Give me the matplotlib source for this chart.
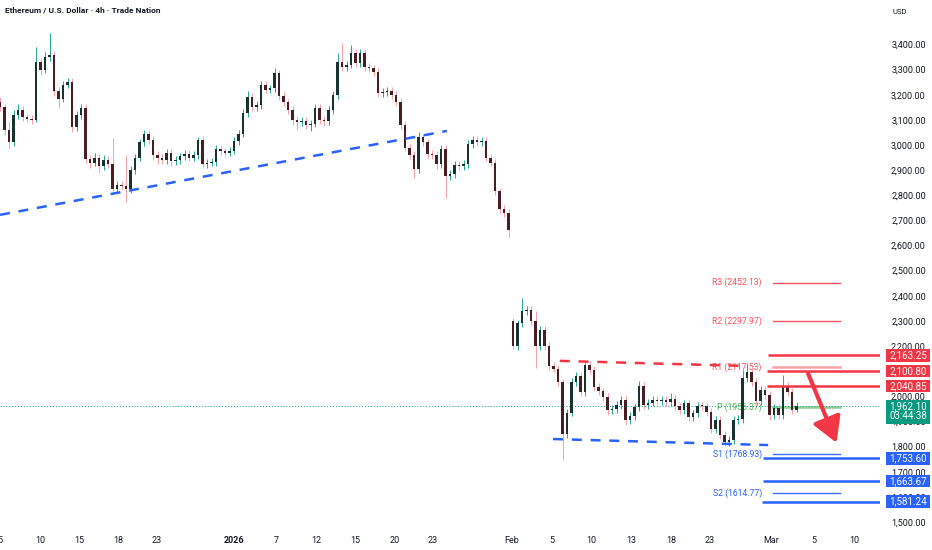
import numpy as np
import matplotlib
matplotlib.use("Agg")
import matplotlib.pyplot as plt
import matplotlib.transforms as mtransforms
from matplotlib.patches import Rectangle

plt.rcParams['font.family'] = ['Liberation Sans Narrow', 'Roboto', 'DejaVu Sans']

# ETH/USD, one candle per 12h
first_open = 3170
closes = [3150, 3060, 3010, 3120, 3140, 3110, 3105, 3100, 3330, 3300,
          3350, 3360, 3215, 3185, 3240, 3250, 3070, 3120, 3148, 2945,
          2930, 2950, 2915, 2940, 2925, 2825, 2840, 2835, 2825, 2900,
          2950, 3010, 3045, 3020, 2960, 2950, 2940, 2968, 2935, 2940,
          2955, 2965, 2950, 2960, 3020, 2925, 2930, 2933, 2985, 2975,
          2970, 2978, 3015, 3045, 3128, 3190, 3150, 3160, 3240, 3220,
          3225, 3285, 3195, 3170, 3140, 3100, 3090, 3095, 3080, 3085,
          3148, 3100, 3095, 3140, 3200, 3330, 3310, 3320, 3367, 3325,
          3367, 3310, 3305, 3290, 3207, 3210, 3215, 3200, 3172, 3080,
          2990, 2960, 2905, 3030, 3010, 2965, 2960, 2925, 2985, 2875,
          2885, 2920, 2915, 2925, 3005, 3020, 3010, 3015, 2950, 2930,
          2815, 2745, 2730, 2660, 2200, 2290, 2340, 2345, 2300, 2200,
          2265, 2200, 2120, 2110, 2055, 1850, 1935, 2057, 2080, 2017,
          2125, 2105, 2037, 2020, 1997, 1945, 1950, 1966, 1985, 1906,
          1922, 1956, 2040, 1965, 1975, 1985, 1980, 1985, 1978, 1990,
          1960, 1946, 1972, 1918, 1932, 1962, 1960, 1938, 1870, 1906,
          1845, 1818, 1826, 1906, 1910, 2073, 2097, 2057, 1980, 2025,
          2005, 1926, 1954, 1926, 2040, 2017, 1946, 1962.10]
wick_up = [20, 15, 30, 20, 25, 15, 15, 15, 60, 15,
           20, 86, 15, 15, 15, 15, 15, 15, 15, 15,
           15, 20, 15, 20, 15, 103, 15, 15, 125, 15,
           15, 15, 15, 15, 15, 15, 15, 15, 15, 15,
           15, 15, 15, 15, 12, 15, 15, 15, 15, 15,
           15, 15, 15, 15, 15, 25, 15, 15, 15, 15,
           15, 22, 15, 15, 15, 15, 15, 15, 15, 15,
           15, 15, 15, 15, 15, 37, 76, 15, 32, 15,
           15, 15, 15, 15, 15, 15, 15, 15, 15, 15,
           15, 15, 15, 20, 15, 15, 15, 15, 15, 15,
           15, 15, 15, 15, 15, 15, 15, 15, 15, 15,
           15, 15, 15, 15, 10, 15, 52, 15, 15, 40,
           15, 15, 15, 15, 15, 15, 15, 15, 15, 15,
           15, 15, 15, 15, 15, 15, 15, 15, 15, 15,
           15, 15, 20, 15, 15, 15, 15, 15, 15, 25,
           15, 15, 15, 15, 15, 15, 15, 15, 15, 15,
           15, 15, 15, 15, 15, 32, 36, 15, 15, 15,
           15, 15, 15, 15, 45, 15, 15, 15]
wick_dn = [15, 20, 20, 15, 15, 15, 15, 15, 10, 20,
           15, 15, 20, 37, 15, 15, 20, 15, 15, 15,
           20, 15, 26, 15, 15, 15, 15, 15, 51, 15,
           15, 15, 15, 15, 20, 25, 15, 15, 20, 15,
           15, 15, 15, 15, 15, 15, 15, 15, 15, 15,
           15, 15, 15, 15, 15, 15, 15, 15, 15, 15,
           15, 15, 15, 15, 15, 20, 30, 15, 15, 25,
           15, 15, 20, 15, 15, 15, 15, 15, 15, 15,
           15, 15, 15, 15, 15, 15, 15, 15, 15, 15,
           15, 15, 36, 15, 15, 15, 15, 20, 15, 85,
           15, 15, 15, 15, 15, 15, 15, 15, 15, 15,
           15, 15, 15, 26, 10, 15, 15, 15, 15, 87,
           15, 15, 15, 15, 15, 103, 15, 15, 15, 15,
           15, 15, 15, 15, 15, 20, 15, 15, 15, 20,
           15, 15, 15, 15, 15, 15, 15, 15, 15, 15,
           15, 15, 15, 15, 15, 15, 15, 15, 15, 15,
           15, 16, 15, 15, 15, 15, 15, 15, 15, 15,
           15, 21, 15, 15, 15, 15, 15, 10]
gap_opens = {114: 2300}

# x axis labels (bar positions)
tick_labels = ['5', '10', '15', '18', '23', '2026', '7', '12', '15', '20', '23',
               'Feb', '5', '10', '13', '18', '23', 'Mar', '5', '10']
tick_bars = [0, 8.9, 17.6, 26.2, 34.9, 52.0, 61.3, 70.2, 78.9, 87.6, 96.2,
             113.6, 122.7, 131.3, 140.2, 149.1, 157.8, 171.3, 180.9, 189.8]

# pivot points
pivot_names = ['R3', 'R2', 'R1', 'P', 'S1', 'S2']
pivot_values = [2452.13, 2297.97, 2117.53, 1956.37, 1768.93, 1614.77]
pivot_colors = ['#f7525f', '#f7525f', '#f7a1a8', '#8fce92', '#3d6cff', '#3d6cff']
pivot_widths = [1.0, 1.0, 1.8, 1.8, 1.0, 1.0]

# drawn levels
level_values = [2163.25, 2100.80, 2040.85, 1753.60, 1663.67, 1581.24]
level_colors = ['#f23645', '#f23645', '#f23645', '#2962ff', '#2962ff', '#2962ff']
level_start = [170.6, 170.4, 170.4, 169.5, 169.5, 169.3]

# trend lines
top_line_x, top_line_y = [0, 99.3], [2722, 3056]
res_line_x, res_line_y = [124.4, 165.1], [2141, 2121]
sup_line_x, sup_line_y = [122.9, 170.7], [1830, 1806]

last_price = 1962.10
countdown = '03:44:38'
arrow_from = (179.6, 2090)
arrow_to = (185.9, 1815)

opens = [first_open] + closes[:-1]
for k, v in gap_opens.items():
    opens[k] = v
o = np.array(opens, dtype=float)
c = np.array(closes, dtype=float)
hi = np.maximum(o, c) + np.array(wick_up)
lo = np.minimum(o, c) - np.array(wick_dn)
x = np.arange(len(c))
up = c >= o

fig = plt.figure(figsize=(9.32, 5.5), dpi=100)
ax = fig.add_axes([0, 20 / 550, 880 / 932, 530 / 550])
ax.set_xlim(0, 880 / 4.5)
ax.set_ylim(1468, 3577)

# candles
ax.vlines(x[up], lo[up], hi[up], color='#26a69a', lw=0.7, zorder=3)
ax.vlines(x[~up], lo[~up], hi[~up], color='#f7a1a8', lw=0.7, zorder=3)
body_h = np.maximum(np.abs(c - o), 4)
body_b = np.minimum(o, c)
ax.bar(x[up], body_h[up], bottom=body_b[up], width=0.62, color='#17332e', lw=0, zorder=4)
ax.bar(x[~up], body_h[~up], bottom=body_b[~up], width=0.62, color='#4a1d23', lw=0, zorder=4)

# pivots
for name, val, col, w in zip(pivot_names, pivot_values, pivot_colors, pivot_widths):
    ax.plot([171.8, 186.7], [val, val], color=col, lw=w, zorder=2)
    tcol = '#4caf50' if name == 'P' else ('#f7525f' if name.startswith('R') else '#2962ff')
    ax.text(169.3, val, f'{name} ({val:.2f})', color=tcol, fontsize=6.2,
            ha='right', va='center', zorder=2)

# current price line
ax.axhline(last_price, color='#089981', lw=0.7, ls=(0, (1, 2)), zorder=2)

# trend lines
ax.plot(top_line_x, top_line_y, color='#2962ff', lw=1.8, ls=(0, (4, 3.5)), zorder=5)
ax.plot(res_line_x, res_line_y, color='#f23645', lw=1.8, ls=(0, (4, 3.5)), zorder=5)
ax.plot(sup_line_x, sup_line_y, color='#2962ff', lw=1.8, ls=(0, (4, 3.5)), zorder=5)

# levels + right tags
trans = mtransforms.blended_transform_factory(ax.transAxes, ax.transData)
for val, col, xs in zip(level_values, level_colors, level_start):
    ax.plot([xs, 880 / 4.5], [val, val], color=col, lw=1.8, zorder=5,
            solid_capstyle='butt')
    ax.add_patch(Rectangle((1.0068, val - 25), 0.05, 50, transform=trans,
                           fc=col, ec='none', clip_on=False, zorder=7))
    ax.text(1.0318, val, f'{val:,.2f}', transform=trans, color='white',
            fontsize=7, ha='center', va='center', zorder=8, clip_on=False)

ax.add_patch(Rectangle((1.0068, last_price - 72), 0.05, 94, transform=trans,
                       fc='#089981', ec='none', clip_on=False, zorder=7))
ax.text(1.0318, last_price, f'{last_price:,.2f}', transform=trans, color='white',
        fontsize=7, ha='center', va='center', zorder=8, clip_on=False)
ax.text(1.0318, last_price - 40, countdown, transform=trans, color='white',
        fontsize=7, ha='center', va='center', zorder=8, clip_on=False)

# arrow
ax.annotate('', xy=arrow_to, xytext=arrow_from, zorder=6,
            arrowprops=dict(arrowstyle='-|>,head_width=0.55,head_length=0.95',
                            mutation_scale=16, lw=3, color='#f23645',
                            shrinkA=0, shrinkB=0))

# axes styling
for s in ax.spines.values():
    s.set_visible(False)
ax.set_xticks(tick_bars)
ax.set_xticklabels(tick_labels)
ax.tick_params(axis='x', length=0, pad=4, labelsize=6.5, labelcolor='#131722')
ax.get_xticklabels()[5].set_fontweight('bold')

ax.yaxis.tick_right()
yt = np.arange(1500, 3401, 100)
ax.set_yticks(yt)
ax.set_yticklabels([f'{v:,.2f}' for v in yt])
ax.tick_params(axis='y', length=0, pad=33, labelsize=6.5, labelcolor='#131722')
for lab in ax.get_yticklabels():
    lab.set_ha('right')

fig.text(5 / 932, 1 - 10 / 550, 'Ethereum / U.S. Dollar · 4h · Trade Nation',
         fontsize=6, color='#131722', fontweight='semibold', ha='left', va='center')
fig.text(900 / 932, 1 - 12 / 550, 'USD', fontsize=5.5, color='#131722',
         ha='center', va='center')

fig.savefig('out.png', dpi=100, facecolor='white')
